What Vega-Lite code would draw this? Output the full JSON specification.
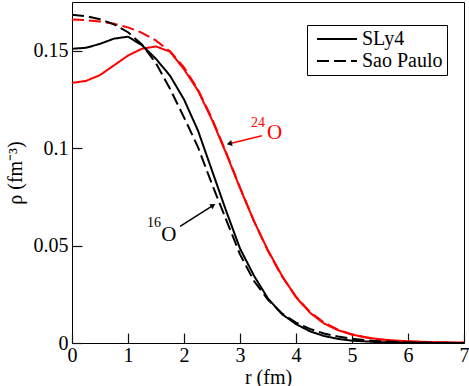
{
  "$schema": "https://vega.github.io/schema/vega-lite/v6.json",
  "width": 392,
  "height": 341,
  "autosize": "none",
  "padding": {"left": 72, "top": 2, "right": 5, "bottom": 43},
  "background": "white",
  "datasets": {
    "curves": [
      {"r": 0, "rho": 0.151, "nucleus": "16O", "model": "SLy4"},
      {"r": 0.25, "rho": 0.1515, "nucleus": "16O", "model": "SLy4"},
      {"r": 0.5, "rho": 0.1535, "nucleus": "16O", "model": "SLy4"},
      {"r": 0.75, "rho": 0.1562, "nucleus": "16O", "model": "SLy4"},
      {"r": 1.0, "rho": 0.1572, "nucleus": "16O", "model": "SLy4"},
      {"r": 1.25, "rho": 0.1528, "nucleus": "16O", "model": "SLy4"},
      {"r": 1.5, "rho": 0.1458, "nucleus": "16O", "model": "SLy4"},
      {"r": 1.75, "rho": 0.1372, "nucleus": "16O", "model": "SLy4"},
      {"r": 2.0, "rho": 0.125, "nucleus": "16O", "model": "SLy4"},
      {"r": 2.25, "rho": 0.109, "nucleus": "16O", "model": "SLy4"},
      {"r": 2.5, "rho": 0.0885, "nucleus": "16O", "model": "SLy4"},
      {"r": 2.75, "rho": 0.068, "nucleus": "16O", "model": "SLy4"},
      {"r": 3.0, "rho": 0.0485, "nucleus": "16O", "model": "SLy4"},
      {"r": 3.25, "rho": 0.0345, "nucleus": "16O", "model": "SLy4"},
      {"r": 3.5, "rho": 0.0228, "nucleus": "16O", "model": "SLy4"},
      {"r": 3.75, "rho": 0.0148, "nucleus": "16O", "model": "SLy4"},
      {"r": 4.0, "rho": 0.0097, "nucleus": "16O", "model": "SLy4"},
      {"r": 4.25, "rho": 0.006, "nucleus": "16O", "model": "SLy4"},
      {"r": 4.5, "rho": 0.0036, "nucleus": "16O", "model": "SLy4"},
      {"r": 4.75, "rho": 0.0021, "nucleus": "16O", "model": "SLy4"},
      {"r": 5.0, "rho": 0.0012, "nucleus": "16O", "model": "SLy4"},
      {"r": 5.5, "rho": 0.0004, "nucleus": "16O", "model": "SLy4"},
      {"r": 6.0, "rho": 0.0001, "nucleus": "16O", "model": "SLy4"},
      {"r": 7.0, "rho": 0.0, "nucleus": "16O", "model": "SLy4"},
      {"r": 0, "rho": 0.1685, "nucleus": "16O", "model": "Sao Paulo"},
      {"r": 0.25, "rho": 0.1677, "nucleus": "16O", "model": "Sao Paulo"},
      {"r": 0.5, "rho": 0.1662, "nucleus": "16O", "model": "Sao Paulo"},
      {"r": 0.75, "rho": 0.1635, "nucleus": "16O", "model": "Sao Paulo"},
      {"r": 1.0, "rho": 0.1595, "nucleus": "16O", "model": "Sao Paulo"},
      {"r": 1.25, "rho": 0.1532, "nucleus": "16O", "model": "Sao Paulo"},
      {"r": 1.5, "rho": 0.1435, "nucleus": "16O", "model": "Sao Paulo"},
      {"r": 1.75, "rho": 0.1305, "nucleus": "16O", "model": "Sao Paulo"},
      {"r": 2.0, "rho": 0.1158, "nucleus": "16O", "model": "Sao Paulo"},
      {"r": 2.25, "rho": 0.1005, "nucleus": "16O", "model": "Sao Paulo"},
      {"r": 2.5, "rho": 0.0815, "nucleus": "16O", "model": "Sao Paulo"},
      {"r": 2.75, "rho": 0.0635, "nucleus": "16O", "model": "Sao Paulo"},
      {"r": 3.0, "rho": 0.0455, "nucleus": "16O", "model": "Sao Paulo"},
      {"r": 3.25, "rho": 0.0318, "nucleus": "16O", "model": "Sao Paulo"},
      {"r": 3.5, "rho": 0.0222, "nucleus": "16O", "model": "Sao Paulo"},
      {"r": 3.75, "rho": 0.0152, "nucleus": "16O", "model": "Sao Paulo"},
      {"r": 4.0, "rho": 0.0105, "nucleus": "16O", "model": "Sao Paulo"},
      {"r": 4.25, "rho": 0.0072, "nucleus": "16O", "model": "Sao Paulo"},
      {"r": 4.5, "rho": 0.0049, "nucleus": "16O", "model": "Sao Paulo"},
      {"r": 4.75, "rho": 0.0033, "nucleus": "16O", "model": "Sao Paulo"},
      {"r": 5.0, "rho": 0.0022, "nucleus": "16O", "model": "Sao Paulo"},
      {"r": 5.25, "rho": 0.0014, "nucleus": "16O", "model": "Sao Paulo"},
      {"r": 5.5, "rho": 0.0009, "nucleus": "16O", "model": "Sao Paulo"},
      {"r": 6.0, "rho": 0.0003, "nucleus": "16O", "model": "Sao Paulo"},
      {"r": 7.0, "rho": 0.0, "nucleus": "16O", "model": "Sao Paulo"},
      {"r": 0, "rho": 0.1335, "nucleus": "24O", "model": "SLy4"},
      {"r": 0.25, "rho": 0.1345, "nucleus": "24O", "model": "SLy4"},
      {"r": 0.5, "rho": 0.1375, "nucleus": "24O", "model": "SLy4"},
      {"r": 0.75, "rho": 0.1425, "nucleus": "24O", "model": "SLy4"},
      {"r": 1.0, "rho": 0.1475, "nucleus": "24O", "model": "SLy4"},
      {"r": 1.25, "rho": 0.151, "nucleus": "24O", "model": "SLy4"},
      {"r": 1.5, "rho": 0.1522, "nucleus": "24O", "model": "SLy4"},
      {"r": 1.75, "rho": 0.1495, "nucleus": "24O", "model": "SLy4"},
      {"r": 2.0, "rho": 0.1405, "nucleus": "24O", "model": "SLy4"},
      {"r": 2.25, "rho": 0.1295, "nucleus": "24O", "model": "SLy4"},
      {"r": 2.5, "rho": 0.1145, "nucleus": "24O", "model": "SLy4"},
      {"r": 2.75, "rho": 0.0975, "nucleus": "24O", "model": "SLy4"},
      {"r": 3.0, "rho": 0.0795, "nucleus": "24O", "model": "SLy4"},
      {"r": 3.25, "rho": 0.0625, "nucleus": "24O", "model": "SLy4"},
      {"r": 3.5, "rho": 0.0475, "nucleus": "24O", "model": "SLy4"},
      {"r": 3.75, "rho": 0.0345, "nucleus": "24O", "model": "SLy4"},
      {"r": 4.0, "rho": 0.0235, "nucleus": "24O", "model": "SLy4"},
      {"r": 4.25, "rho": 0.0155, "nucleus": "24O", "model": "SLy4"},
      {"r": 4.5, "rho": 0.01, "nucleus": "24O", "model": "SLy4"},
      {"r": 4.75, "rho": 0.0066, "nucleus": "24O", "model": "SLy4"},
      {"r": 5.0, "rho": 0.0043, "nucleus": "24O", "model": "SLy4"},
      {"r": 5.25, "rho": 0.0029, "nucleus": "24O", "model": "SLy4"},
      {"r": 5.5, "rho": 0.0019, "nucleus": "24O", "model": "SLy4"},
      {"r": 5.75, "rho": 0.0013, "nucleus": "24O", "model": "SLy4"},
      {"r": 6.0, "rho": 0.0009, "nucleus": "24O", "model": "SLy4"},
      {"r": 6.5, "rho": 0.0004, "nucleus": "24O", "model": "SLy4"},
      {"r": 7.0, "rho": 0.0002, "nucleus": "24O", "model": "SLy4"},
      {"r": 0, "rho": 0.166, "nucleus": "24O", "model": "Sao Paulo"},
      {"r": 0.25, "rho": 0.1657, "nucleus": "24O", "model": "Sao Paulo"},
      {"r": 0.5, "rho": 0.165, "nucleus": "24O", "model": "Sao Paulo"},
      {"r": 0.75, "rho": 0.1638, "nucleus": "24O", "model": "Sao Paulo"},
      {"r": 1.0, "rho": 0.162, "nucleus": "24O", "model": "Sao Paulo"},
      {"r": 1.25, "rho": 0.1592, "nucleus": "24O", "model": "Sao Paulo"},
      {"r": 1.5, "rho": 0.1552, "nucleus": "24O", "model": "Sao Paulo"},
      {"r": 1.75, "rho": 0.1497, "nucleus": "24O", "model": "Sao Paulo"},
      {"r": 2.0, "rho": 0.1415, "nucleus": "24O", "model": "Sao Paulo"},
      {"r": 2.25, "rho": 0.13, "nucleus": "24O", "model": "Sao Paulo"},
      {"r": 2.5, "rho": 0.1152, "nucleus": "24O", "model": "Sao Paulo"},
      {"r": 2.75, "rho": 0.098, "nucleus": "24O", "model": "Sao Paulo"},
      {"r": 3.0, "rho": 0.0798, "nucleus": "24O", "model": "Sao Paulo"},
      {"r": 3.25, "rho": 0.0625, "nucleus": "24O", "model": "Sao Paulo"},
      {"r": 3.5, "rho": 0.0472, "nucleus": "24O", "model": "Sao Paulo"},
      {"r": 3.75, "rho": 0.0342, "nucleus": "24O", "model": "Sao Paulo"},
      {"r": 4.0, "rho": 0.0238, "nucleus": "24O", "model": "Sao Paulo"},
      {"r": 4.25, "rho": 0.016, "nucleus": "24O", "model": "Sao Paulo"},
      {"r": 4.5, "rho": 0.0105, "nucleus": "24O", "model": "Sao Paulo"},
      {"r": 4.75, "rho": 0.0068, "nucleus": "24O", "model": "Sao Paulo"},
      {"r": 5.0, "rho": 0.0044, "nucleus": "24O", "model": "Sao Paulo"},
      {"r": 5.25, "rho": 0.0028, "nucleus": "24O", "model": "Sao Paulo"},
      {"r": 5.5, "rho": 0.0018, "nucleus": "24O", "model": "Sao Paulo"},
      {"r": 5.75, "rho": 0.0011, "nucleus": "24O", "model": "Sao Paulo"},
      {"r": 6.0, "rho": 0.0007, "nucleus": "24O", "model": "Sao Paulo"},
      {"r": 6.5, "rho": 0.0003, "nucleus": "24O", "model": "Sao Paulo"},
      {"r": 7.0, "rho": 0.0001, "nucleus": "24O", "model": "Sao Paulo"}
    ],
    "notes": [
      {"r": 1.73, "rho": 0.0555, "text": "O", "part": "base", "nucleus": "16O"},
      {"r": 1.464, "rho": 0.0617, "text": "16", "part": "sup", "nucleus": "16O"},
      {"r": 3.616, "rho": 0.1077, "text": "O", "part": "base", "nucleus": "24O"},
      {"r": 3.32, "rho": 0.1131, "text": "24", "part": "sup", "nucleus": "24O"}
    ],
    "arrows": [
      {"r": 1.93, "rho": 0.0598, "r2": 2.52, "rho2": 0.0706, "nucleus": "16O"},
      {"r": 3.39, "rho": 0.1064, "r2": 2.81, "rho2": 0.1023, "nucleus": "24O"}
    ]
  },
  "encoding": {
    "x": {"field": "r", "type": "quantitative", "scale": {"domain": [0, 7], "nice": false, "zero": false},
          "axis": {"orient": "bottom", "values": [0, 1, 2, 3, 4, 5, 6, 7], "domain": false, "grid": false, "ticks": true, "tickSize": -10, "tickColor": "#111111", "tickWidth": 1.2, "tickOpacity": 1, "labelPadding": 12, "labelFlush": false, "format": "d", "labelFont": "Liberation Serif", "labelFontSize": 20, "labelColor": "#000000", "title": "r (fm)", "titleFont": "Liberation Serif", "titleFontSize": 20, "titleFontWeight": "normal", "titleColor": "#000000", "titlePadding": 2}},
    "y": {"field": "rho", "type": "quantitative", "scale": {"domain": [0, 0.175], "nice": false, "zero": false},
          "axis": {"orient": "left", "values": [0, 0.05, 0.1, 0.15], "domain": false, "grid": false, "ticks": true, "tickSize": -10, "tickColor": "#111111", "tickWidth": 1.2, "tickOpacity": 1, "labelPadding": 14, "labelFlush": false, "format": ".2~f", "labelFont": "Liberation Serif", "labelFontSize": 20, "labelColor": "#000000", "title": "ρ (fm⁻³)", "titleFont": "Liberation Serif", "titleFontSize": 20, "titleFontWeight": "normal", "titleColor": "#000000", "titlePadding": 8}},
    "color": {"field": "nucleus", "type": "nominal", "scale": {"domain": ["16O", "24O"], "range": ["#000000", "#ff0000"]}, "legend": null}
  },
  "layer": [
    {
      "data": {"name": "curves"},
      "transform": [{"filter": "datum.nucleus == '24O'"}],
      "mark": {"type": "line", "strokeWidth": 2},
      "encoding": {
        "strokeDash": {"field": "model", "type": "nominal", "scale": {"domain": ["SLy4", "Sao Paulo"], "range": [[1, 0], [12, 5]]}, "legend": {"title": null}}
      }
    },
    {
      "data": {"name": "curves"},
      "transform": [{"filter": "datum.nucleus == '16O'"}],
      "mark": {"type": "line", "strokeWidth": 2},
      "encoding": {
        "strokeDash": {"field": "model", "type": "nominal", "scale": {"domain": ["SLy4", "Sao Paulo"], "range": [[1, 0], [12, 5]]}, "legend": {"title": null}}
      }
    },
    {
      "data": {"name": "arrows"},
      "mark": {"type": "rule", "strokeWidth": 1.5},
      "encoding": {
        "x2": {"field": "r2"},
        "y2": {"field": "rho2"}
      }
    },
    {
      "data": {"name": "arrows"},
      "transform": [{"filter": "datum.nucleus == '16O'"}],
      "mark": {"type": "point", "shape": "triangle-up", "filled": true, "size": 36, "angle": 58, "opacity": 1},
      "encoding": {
        "x": {"field": "r2", "type": "quantitative"},
        "y": {"field": "rho2", "type": "quantitative"},
        "color": {"value": "#000000"}
      }
    },
    {
      "data": {"name": "arrows"},
      "transform": [{"filter": "datum.nucleus == '24O'"}],
      "mark": {"type": "point", "shape": "triangle-up", "filled": true, "size": 36, "angle": 256, "opacity": 1},
      "encoding": {
        "x": {"field": "r2", "type": "quantitative"},
        "y": {"field": "rho2", "type": "quantitative"},
        "color": {"value": "#000000"}
      }
    },
    {
      "data": {"name": "notes"},
      "transform": [{"filter": "datum.part == 'base'"}],
      "mark": {"type": "text", "font": "Liberation Serif", "fontSize": 21, "align": "center", "baseline": "middle"},
      "encoding": {"text": {"field": "text"}}
    },
    {
      "data": {"name": "notes"},
      "transform": [{"filter": "datum.part == 'sup'"}],
      "mark": {"type": "text", "font": "Liberation Serif", "fontSize": 14, "align": "center", "baseline": "middle"},
      "encoding": {"text": {"field": "text"}}
    }
  ],
  "config": {
    "view": {"stroke": "#000000", "strokeWidth": 1},
    "legend": {
      "orient": "none",
      "legendX": 235,
      "legendY": 23,
      "strokeColor": "#000000",
      "fillColor": "#ffffff",
      "padding": 4,
      "rowPadding": 2,
      "symbolType": "M-4,0H4",
      "symbolSize": 100,
      "symbolStrokeWidth": 2,
      "symbolStrokeColor": "#000000",
      "symbolFillColor": "transparent",
      "symbolOffset": 16,
      "labelOffset": 15,
      "labelFont": "Liberation Serif",
      "labelFontSize": 20,
      "labelColor": "#000000"
    }
  }
}
